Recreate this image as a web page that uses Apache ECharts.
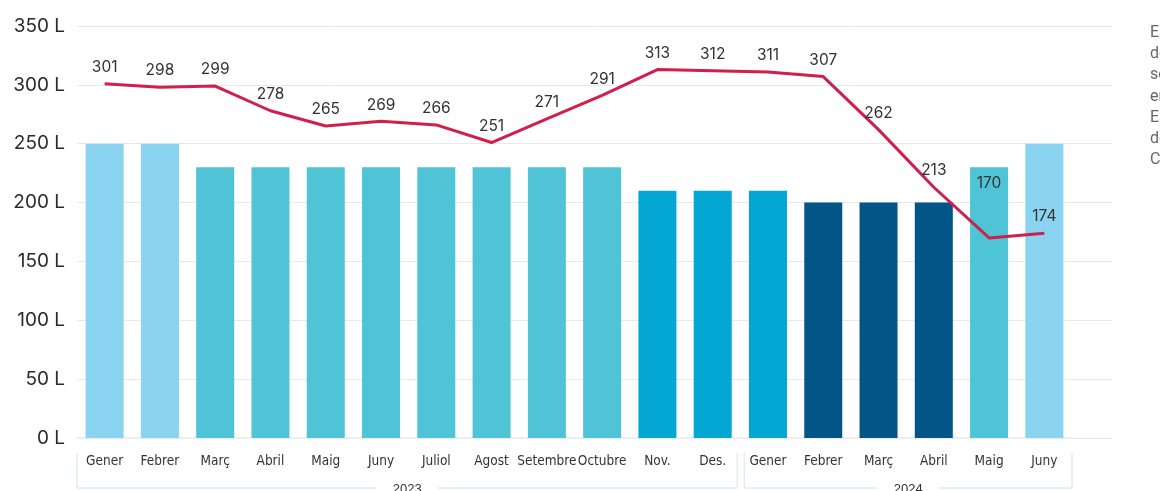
<!DOCTYPE html>
<html>
<head>
<meta charset="utf-8">
<script src="https://cdn.jsdelivr.net/npm/echarts@6/dist/echarts.min.js"></script>
<style>
  html, body { margin: 0; padding: 0; background: #fff; }
  #chart { width: 1160px; height: 491px; }
</style>
</head>
<body>
<div id="chart"></div>
<script>
const mesos = ['Gener', 'Febrer', 'Març', 'Abril', 'Maig', 'Juny', 'Juliol', 'Agost', 'Setembre', 'Octubre', 'Nov.', 'Des.',
               'Gener', 'Febrer', 'Març', 'Abril', 'Maig', 'Juny'];
const anys = ['2023', '2024'];
const mesosPerAny = [12, 6];
const dotacio = [250, 250, 230, 230, 230, 230, 230, 230, 230, 230, 210, 210, 210, 200, 200, 200, 230, 250];
const fase = [0, 0, 1, 1, 1, 1, 1, 1, 1, 1, 2, 2, 2, 3, 3, 3, 1, 0];
const consum = [301, 298, 299, 278, 265, 269, 266, 251, 271, 291, 313, 312, 311, 307, 262, 213, 170, 174];
const yTicks = [0, 50, 100, 150, 200, 250, 300, 350];
const notaDreta = ['Es', 'de', 'se', 'en', 'Es', 'de', 'Ca'];

const colorsFase = ['#8AD4F2', '#4FC4D6', '#04A6D4', '#015587'];

const chart = echarts.init(document.getElementById('chart'));

const option = {
    animation: false,
    grid: [
        { left: 77, right: 48, top: 26, bottom: 53 },
        { left: 77, right: 88, top: 26, bottom: 53 }
    ],
    xAxis: [
        { gridIndex: 0, type: 'category', data: mesos, show: false },
        {
            gridIndex: 1,
            type: 'category',
            data: mesos,
            axisLine: { show: true, lineStyle: { color: '#eeeeee', width: 2 } },
            axisTick: { show: false },
            axisLabel: {
                interval: 0,
                margin: 16,
                color: '#333',
                fontFamily: 'Liberation Sans Narrow, DejaVu Sans Condensed, sans-serif',
                fontSize: 13.5
            }
        }
    ],
    yAxis: [
        {
            gridIndex: 0,
            type: 'value',
            min: yTicks[0],
            max: yTicks[yTicks.length - 1],
            interval: 50,
            axisLine: { show: false },
            axisTick: { show: false },
            splitLine: { lineStyle: { color: '#e8e8e8' } },
            axisLabel: {
                margin: 12,
                color: '#2b2b2b',
                fontFamily: 'Inter, sans-serif',
                fontSize: 19,
                formatter: v => v + ' L'
            }
        },
        {
            gridIndex: 1,
            type: 'value',
            min: yTicks[0],
            max: yTicks[yTicks.length - 1],
            show: false
        }
    ],
    series: [
        {
            type: 'bar',
            xAxisIndex: 1,
            yAxisIndex: 1,
            barWidth: 38,
            data: dotacio.map((v, i) => ({ value: v, itemStyle: { color: colorsFase[fase[i]] } })),
            z: 2
        },
        {
            type: 'line',
            xAxisIndex: 1,
            yAxisIndex: 1,
            data: consum.map((v, i) => i === 16
                ? { value: v, label: { offset: [0, -38] } }
                : v),
            symbol: 'circle',
            symbolSize: 1,
            itemStyle: { color: 'rgba(0,0,0,0)' },
            lineStyle: { color: '#D11F4A', width: 3 },
            label: {
                show: true,
                position: 'top',
                distance: 8,
                color: '#333',
                fontFamily: 'Inter, sans-serif',
                fontSize: 15.5
            },
            z: 3
        }
    ]
};

chart.setOption(option);

// caixes d'agrupament per any sota l'eix
const px = i => chart.convertToPixel({ xAxisIndex: 1 }, i);
const banda = px(1) - px(0);
const boxTop = 453, boxBottom = 488;
const graphics = [];
let inici = 0;
anys.forEach((any, k) => {
    const fi = inici + mesosPerAny[k] - 1;
    const x0 = px(inici) - banda / 2 + (k > 0 ? 4 : 0);
    const x1 = px(fi) + banda / 2 - (k === 0 ? 3 : 0);
    const mid = (x0 + x1) / 2;
    const gap = 30;
    const ls = { stroke: '#e2edf2', lineWidth: 1.5 };
    graphics.push(
        { type: 'line', shape: { x1: x0, y1: boxTop, x2: x0, y2: boxBottom }, style: ls, silent: true },
        { type: 'line', shape: { x1: x1, y1: boxTop, x2: x1, y2: boxBottom }, style: ls, silent: true },
        { type: 'line', shape: { x1: x0, y1: boxBottom, x2: mid - gap, y2: boxBottom }, style: ls, silent: true },
        { type: 'line', shape: { x1: mid + gap, y1: boxBottom, x2: x1, y2: boxBottom }, style: ls, silent: true },
        {
            type: 'text', x: mid, y: boxBottom + 1, silent: true,
            style: {
                text: any, fill: '#333', align: 'center', verticalAlign: 'middle',
                font: '13px "Liberation Sans Narrow", sans-serif'
            }
        }
    );
    inici = fi + 1;
});

notaDreta.forEach((t, i) => {
    graphics.push({
        type: 'text', x: 1150, y: 33 + i * 21.2, silent: true,
        style: {
            text: t, fill: '#666', verticalAlign: 'middle',
            font: '16px Roboto, sans-serif'
        }
    });
});

chart.setOption({ graphic: graphics });
</script>
</body>
</html>
